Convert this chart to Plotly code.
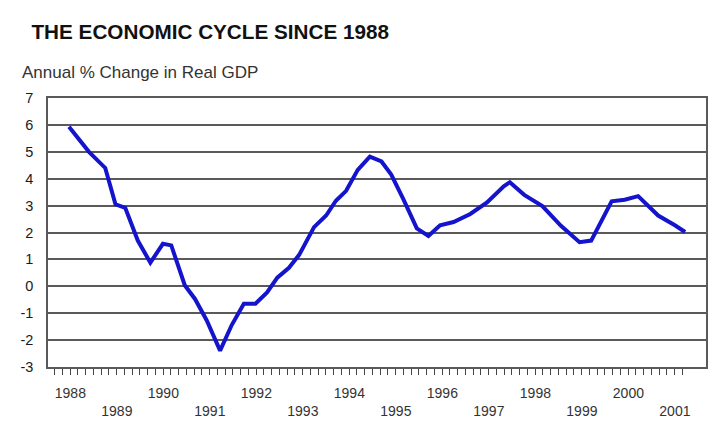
import plotly.graph_objects as go

# Annual % change in real GDP (x in decimal years)
years = [
    1988.31, 1988.74, 1989.09, 1989.31, 1989.52, 1989.79, 1990.06, 1990.33,
    1990.51, 1990.80, 1991.02, 1991.27, 1991.56, 1991.81, 1992.07, 1992.32,
    1992.57, 1992.79, 1993.04, 1993.26, 1993.58, 1993.84, 1994.05, 1994.27,
    1994.52, 1994.78, 1995.03, 1995.24, 1995.50, 1995.79, 1996.04, 1996.29,
    1996.58, 1996.94, 1997.30, 1997.66, 1997.79, 1998.10, 1998.49, 1998.89,
    1999.29, 1999.54, 1999.98, 2000.26, 2000.55, 2000.98, 2001.34, 2001.56,
]
gdp_change = [
    5.93, 5.00, 4.40, 3.05, 2.92, 1.70, 0.88, 1.58,
    1.52, 0.04, -0.47, -1.26, -2.39, -1.44, -0.65, -0.65,
    -0.23, 0.32, 0.69, 1.17, 2.20, 2.63, 3.18, 3.55,
    4.33, 4.82, 4.64, 4.15, 3.24, 2.15, 1.87, 2.27,
    2.39, 2.69, 3.12, 3.72, 3.87, 3.40, 2.98, 2.25,
    1.64, 1.70, 3.16, 3.22, 3.35, 2.63, 2.27, 2.02,
]
label_years = list(range(1988, 2002))
y_ticks = list(range(-3, 8))

font_name = "Liberation Sans, Arial, sans-serif"
grid_grey = "#5a5a5a"

# year labels sit a bit after the start of each year, odd years on a second row
label_pos = [y + 0.34 for y in label_years]
label_text = [str(y) if y % 2 == 0 else "<br>" + str(y) for y in label_years]
# small tick every two months along the bottom
minor_ticks = [1988 + k / 6 for k in range(82)]

fig = go.Figure()
fig.add_trace(go.Scatter(
    x=years,
    y=gdp_change,
    mode="lines",
    line=dict(color="#1414cc", width=4),
    showlegend=False,
))

# page body adds an 8px margin, so the figure is a bit smaller than the window
fig.update_layout(
    width=712,
    height=423,
    paper_bgcolor="white",
    plot_bgcolor="white",
    margin=dict(l=39, r=12, t=90, b=51),
    font=dict(family=font_name, size=14, color="#222222"),
    title=dict(
        text="<b>THE ECONOMIC CYCLE SINCE 1988</b>",
        font=dict(family=font_name, size=20.7, color="#111111"),
        xref="container", x=0.033, xanchor="left",
        yref="container", y=0.945, yanchor="middle",
    ),
    annotations=[dict(
        text="Annual % Change in Real GDP",
        xref="paper", yref="paper",
        x=-0.043, y=1.095, xanchor="left", yanchor="middle",
        showarrow=False,
        font=dict(family=font_name, size=17, color="#333333"),
    )],
    xaxis=dict(
        range=[1987.859, 2002.009],
        tickmode="array",
        tickvals=label_pos,
        ticktext=label_text,
        ticks="outside",
        ticklen=12,
        tickcolor="rgba(0,0,0,0)",
        tickfont=dict(size=14, color="#333333"),
        showgrid=False,
        zeroline=False,
        showline=True,
        linecolor=grid_grey,
        linewidth=1.6,
        mirror=True,
        minor=dict(
            tickmode="array",
            tickvals=minor_ticks,
            ticks="outside",
            ticklen=6,
            tickwidth=1.3,
            tickcolor="#444444",
            showgrid=False,
        ),
    ),
    yaxis=dict(
        range=[-3, 7],
        tickmode="array",
        tickvals=y_ticks,
        ticktext=[str(v) for v in y_ticks],
        ticks="outside",
        ticklen=10,
        tickcolor="rgba(0,0,0,0)",
        tickfont=dict(size=14.5, color="#1a1a1a"),
        showgrid=True,
        gridcolor=grid_grey,
        gridwidth=1.6,
        zeroline=False,
        showline=True,
        linecolor=grid_grey,
        linewidth=1.6,
        mirror=True,
    ),
)

fig.write_html("out.html")
